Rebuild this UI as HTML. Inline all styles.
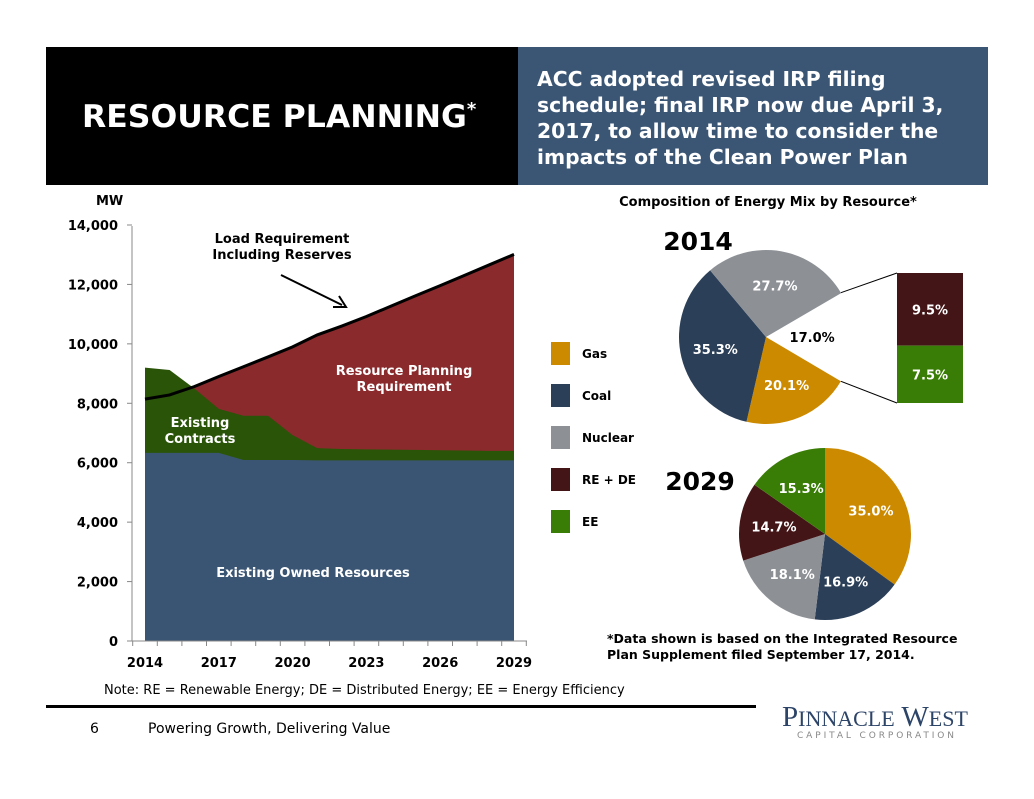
<!DOCTYPE html>
<html><head><meta charset="utf-8">
<style>
body{margin:0;background:#fff;width:1034px;height:799px;overflow:hidden;font-family:"DejaVu Sans","Liberation Sans",sans-serif;position:relative}
.abs{position:absolute}
</style></head><body>
<div class="abs" style="left:46px;top:47px;width:472px;height:138px;background:#000"></div>
<div class="abs" style="left:82px;top:99px;color:#fff;font-weight:bold;font-size:31.5px;white-space:nowrap">RESOURCE PLANNING<span style="font-size:18px;vertical-align:top">*</span></div>
<div class="abs" style="left:518px;top:47px;width:470px;height:138px;background:#3b5675"></div>
<div class="abs" style="left:537px;top:66px;color:#fff;font-weight:bold;font-size:20.3px;line-height:26px;width:445px">ACC adopted revised IRP filing schedule; final IRP now due April 3, 2017, to allow time to consider the impacts of the Clean Power Plan</div>

<svg class="abs" style="left:0;top:0" width="1034" height="799" id="svg" font-family="DejaVu Sans, Liberation Sans, sans-serif"></svg>

<div class="abs" style="left:104px;top:683px;font-size:13px;color:#000">Note: RE = Renewable Energy; DE = Distributed Energy; EE = Energy Efficiency</div>
<div class="abs" style="left:46px;top:705px;width:710px;height:3px;background:#000"></div>
<div class="abs" style="left:90px;top:721px;font-size:14px">6</div>
<div class="abs" style="left:148px;top:721px;font-size:14px">Powering Growth, Delivering Value</div>
<div class="abs" style="left:782px;top:701px;font-family:'Liberation Serif',serif;font-size:29px;color:#2c4468;white-space:nowrap">P<span style="font-size:22px">INNACLE</span> W<span style="font-size:22px">EST</span></div>
<div class="abs" style="left:797px;top:731px;font-size:9px;color:#888;letter-spacing:2.9px;white-space:nowrap">CAPITAL CORPORATION</div>

<script>
const years=[2014,2015,2016,2017,2018,2019,2020,2021,2022,2023,2024,2025,2026,2027,2028,2029];
const owned=[6330,6330,6330,6330,6090,6090,6090,6080,6080,6080,6080,6080,6080,6080,6080,6080];
const contracts=[9200,9120,8500,7810,7580,7580,6930,6490,6460,6450,6440,6430,6420,6410,6400,6400];
const load=[8140,8280,8560,8900,9230,9560,9900,10300,10600,10920,11270,11620,11960,12310,12660,13010];
const yTicks=[0,2000,4000,6000,8000,10000,12000,14000];
const xLabels=[2014,2017,2020,2023,2026,2029];
const pie2014Labels=["RE+EE","Gas","Coal","Nuclear"];
const pie2014=[17.0,20.1,35.3,27.7];
const bar2014Labels=["RE + DE","EE"];
const bar2014=[9.5,7.5];
const pie2029Labels=["Gas","Coal","Nuclear","RE + DE","EE"];
const pie2029=[35.0,16.9,18.1,14.7,15.3];
const legendLabels=["Gas","Coal","Nuclear","RE + DE","EE"];

const C={gas:"#cc8a00",coal:"#2b3f58",nuc:"#8d9196",re:"#431517",ee:"#3a7d06"};
const legendColors=[C.gas,C.coal,C.nuc,C.re,C.ee];
const svg=document.getElementById('svg');
const NS="http://www.w3.org/2000/svg";
function mk(tag,attrs,parent){const e=document.createElementNS(NS,tag);for(const k in attrs)e.setAttribute(k,attrs[k]);(parent||svg).appendChild(e);return e;}
function txt(s,x,y,attrs){const e=mk('text',Object.assign({x:x,y:y},attrs||{}));e.textContent=s;return e;}
const X=i=>145+i*(514-145)/(years.length-1);
const Y=v=>641-v*(416/14000);
const xi=yr=>years.indexOf(yr);

function area(top,bottom,fill,name){
  let d="M"+top.map((v,i)=>X(i)+","+Y(v)).join(" L");
  for(let i=bottom.length-1;i>=0;i--)d+=" L"+X(i)+","+Y(bottom[i]);
  const p=mk('path',{d:d+"Z",fill:fill});
  
  
}
const zero=years.map(()=>0);
area(load,zero,"#8b2a2d","area-resource-planning");
area(contracts,zero,"#2a5408","area-existing-contracts");
area(owned,zero,"#3a5574","area-existing-owned");
const ll=mk('polyline',{points:load.map((v,i)=>X(i)+","+Y(v)).join(" "),fill:"none",stroke:"#000","stroke-width":3});



const ax=mk('line',{x1:132,y1:226,x2:132,y2:641,stroke:"#888"});


const bx=mk('line',{x1:132,y1:641,x2:527,y2:641,stroke:"#888"});


yTicks.forEach(v=>{
  mk('line',{x1:127,y1:Y(v),x2:132,y2:Y(v),stroke:"#888"});
  const t=txt(v.toLocaleString('en-US'),118,Y(v)+5,{"text-anchor":"end","font-size":13,"font-weight":"bold"});
  
  
});
for(let i=0;i<=years.length;i++){const x=X(i)-(X(1)-X(0))/2;mk('line',{x1:x,y1:641,x2:x,y2:646,stroke:"#888"});}
xLabels.forEach(yr=>{
  const t=txt(String(yr),X(xi(yr)),667,{"text-anchor":"middle","font-size":13,"font-weight":"bold"});
  
  
});
txt("MW",96,205,{"font-size":13,"font-weight":"bold"});
txt("Load Requirement",282,243,{"text-anchor":"middle","font-size":13,"font-weight":"bold"});
txt("Including Reserves",282,259,{"text-anchor":"middle","font-size":13,"font-weight":"bold"});
mk('line',{x1:281,y1:275,x2:342,y2:305,stroke:"#000","stroke-width":2});
mk('polyline',{points:"333,307 346,307 339,296",fill:"none",stroke:"#000","stroke-width":2});
txt("Resource Planning",404,375,{"text-anchor":"middle","font-size":13,"font-weight":"bold",fill:"#fff"});
txt("Requirement",404,391,{"text-anchor":"middle","font-size":13,"font-weight":"bold",fill:"#fff"});
txt("Existing",200,427,{"text-anchor":"middle","font-size":13,"font-weight":"bold",fill:"#fff"});
txt("Contracts",200,443,{"text-anchor":"middle","font-size":13,"font-weight":"bold",fill:"#fff"});
txt("Existing Owned Resources",313,577,{"text-anchor":"middle","font-size":13,"font-weight":"bold",fill:"#fff"});

legendLabels.forEach((l,i)=>{
  const y=342+i*42;
  const r=mk('rect',{x:551,y:y,width:19,height:23,fill:legendColors[i]});
  
  
  const t=txt(l,582,y+16,{"font-size":12,"font-weight":"bold"});
  
  
});
txt("Composition of Energy Mix by Resource*",768,206,{"text-anchor":"middle","font-size":13,"font-weight":"bold"});

function slice(cx,cy,r,a0,a1,fill,name){
  const p0=[cx+r*Math.cos(a0),cy+r*Math.sin(a0)],p1=[cx+r*Math.cos(a1),cy+r*Math.sin(a1)];
  const large=(a1-a0)>Math.PI?1:0;
  const p=mk('path',{d:`M${cx},${cy} L${p0[0]},${p0[1]} A${r},${r} 0 ${large} 1 ${p1[0]},${p1[1]} Z`,fill:fill});
  
  
}
function label(s,cx,cy,r,a,fill){txt(s,cx+r*Math.cos(a),cy+r*Math.sin(a)+5,{"text-anchor":"middle","font-size":13,"font-weight":"bold",fill:fill});}

const c1=[766,337],r1=87;
const cols14=[null,C.gas,C.coal,C.nuc];
let a=-pie2014[0]/100*Math.PI;
const wedgeEdges=[];
pie2014.forEach((v,i)=>{
  const a1=a+v/100*2*Math.PI;
  if(i===0)wedgeEdges.push(a,a1);
  else slice(c1[0],c1[1],r1,a,a1,cols14[i],'pie-2014-'+pie2014Labels[i].toLowerCase());
  label(v.toFixed(1)+"%",c1[0],c1[1],i===0?r1*0.53:r1*0.6,(a+a1)/2,i===0?"#000":"#fff");
  a=a1;
});
txt("2014",698,250,{"text-anchor":"middle","font-size":25,"font-weight":"bold"});
const bx0=897,bw=66,by0=273,bh=130,tot=bar2014[0]+bar2014[1];
const h0=bh*bar2014[0]/tot;
const br1=mk('rect',{x:bx0,y:by0,width:bw,height:h0,fill:C.re});


const br2=mk('rect',{x:bx0,y:by0+h0,width:bw,height:bh-h0,fill:C.ee});


txt(bar2014[0].toFixed(1)+"%",bx0+bw/2,by0+h0/2+5,{"text-anchor":"middle","font-size":13,"font-weight":"bold",fill:"#fff"});
txt(bar2014[1].toFixed(1)+"%",bx0+bw/2,by0+h0+(bh-h0)/2+5,{"text-anchor":"middle","font-size":13,"font-weight":"bold",fill:"#fff"});
mk('line',{x1:c1[0]+r1*Math.cos(wedgeEdges[0]),y1:c1[1]+r1*Math.sin(wedgeEdges[0]),x2:bx0,y2:by0,stroke:"#000"});
mk('line',{x1:c1[0]+r1*Math.cos(wedgeEdges[1]),y1:c1[1]+r1*Math.sin(wedgeEdges[1]),x2:bx0,y2:by0+bh,stroke:"#000"});

const c2=[825,534],r2=86;
const cols29=[C.gas,C.coal,C.nuc,C.re,C.ee];
a=-Math.PI/2;
pie2029.forEach((v,i)=>{
  const a1=a+v/100*2*Math.PI;
  slice(c2[0],c2[1],r2,a,a1,cols29[i],'pie-2029-slice');
  label(v.toFixed(1)+"%",c2[0],c2[1],r2*0.6,(a+a1)/2,"#fff");
  a=a1;
});
txt("2029",700,490,{"text-anchor":"middle","font-size":25,"font-weight":"bold"});
txt("*Data shown is based on the Integrated Resource",607,643,{"font-size":12.5,"font-weight":"bold"});
txt("Plan Supplement filed September 17, 2014.",607,659,{"font-size":12.5,"font-weight":"bold"});
</script>
</body></html>
